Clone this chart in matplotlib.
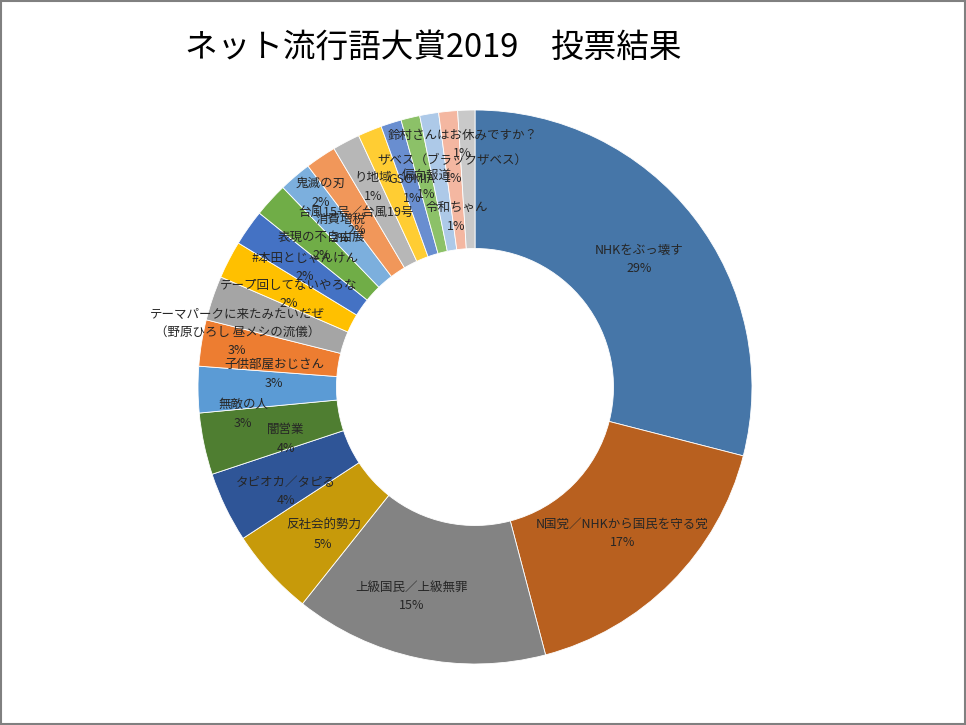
import matplotlib
matplotlib.use("Agg")
import matplotlib.pyplot as plt
import numpy as np
from matplotlib.patches import Rectangle

plt.rcParams["font.family"] = ["Noto Sans CJK JP", "DejaVu Sans"]

# 投票結果 (割合, %)
words = [
    "NHKをぶっ壊す",
    "N国党／NHKから国民を守る党",
    "上級国民／上級無罪",
    "反社会的勢力",
    "タピオカ／タピる",
    "闇営業",
    "無敵の人",
    "子供部屋おじさん",
    "テーマパークに来たみたいだぜ\n（野原ひろし 昼メシの流儀）",
    "テープ回してないやろな",
    "#本田とじゃんけん",
    "表現の不自由展",
    "消費増税",
    "台風15号／台風19号",
    "鬼滅の刃",
    "り地域",
    "GSOMIA",
    "偏向報道",
    "令和ちゃん",
    "ザベス（ブラックザベス）",
    "鈴村さんはお休みですか？",
]
shares = [29.0, 16.9, 14.8, 5.1, 4.1, 3.6, 2.7, 2.7, 2.6, 2.2, 2.1,
          2.0, 1.9, 1.8, 1.6, 1.4, 1.2, 1.1, 1.1, 1.1, 1.0]
colors = [
    "#4676A8", "#B8601F", "#838383", "#C79A0A", "#2F5597", "#4F7E31",
    "#5B9BD5", "#ED7D31", "#A5A5A5", "#FFC000", "#4472C4", "#70AD47",
    "#7CAFDD", "#F1975A", "#B7B7B7", "#FFCD33", "#698ED0", "#8CC168",
    "#ADC9E8", "#F4B7A1", "#C9C9C9",
]
# label nudges in pixels (dx right, dy down), like Excel's best-fit shuffle
nudges = [
    (0, 0), (0, 0), (-21, 6), (2, 8), (-2, 14), (14, 9), (-24, 25),
    (4, 20), (-41, 12), (-2, 3), (0, 0), (0, 0), (0, 0), (-3, 7),
    (-58, -10), (-23, -8), (0, 0), (0, 0), (16, 35), (-2, -11), (-6, -35),
]

W, H = 966, 725
fig = plt.figure(figsize=(W / 100, H / 100), dpi=100)

# donut placement (pixels)
cx, cy, r = 475, 387, 277
ax = fig.add_axes([(cx - r) / W, (H - cy - r) / H, 2 * r / W, 2 * r / H])

wedges, _ = ax.pie(
    shares,
    colors=colors,
    startangle=90,
    counterclock=False,
    radius=1.0,
    wedgeprops=dict(width=0.5, edgecolor="white", linewidth=0.6),
)

total = sum(shares)
for w, name, v, (dx, dy) in zip(wedges, words, shares, nudges):
    ang = np.deg2rad((w.theta1 + w.theta2) / 2)
    x = 0.75 * np.cos(ang) + dx / r
    y = 0.75 * np.sin(ang) - dy / r
    ax.text(x, y, f"{name}\n{round(v / total * 100)}%",
            ha="center", va="center", fontsize=9, color="#262626",
            linespacing=1.55)

ax.set_xlim(-1, 1)
ax.set_ylim(-1, 1)
ax.set_aspect("equal")
ax.axis("off")

fig.text(0.448, 1 - 48 / H, "ネット流行語大賞2019\u3000投票結果",
         ha="center", va="center", fontsize=23.5, color="black")

# chart area border
fig.patches.append(Rectangle((0.001, 0.001), 0.998, 0.998, transform=fig.transFigure,
                             fill=False, edgecolor="#808080", linewidth=1.5))

fig.savefig("out.png", dpi=100)
